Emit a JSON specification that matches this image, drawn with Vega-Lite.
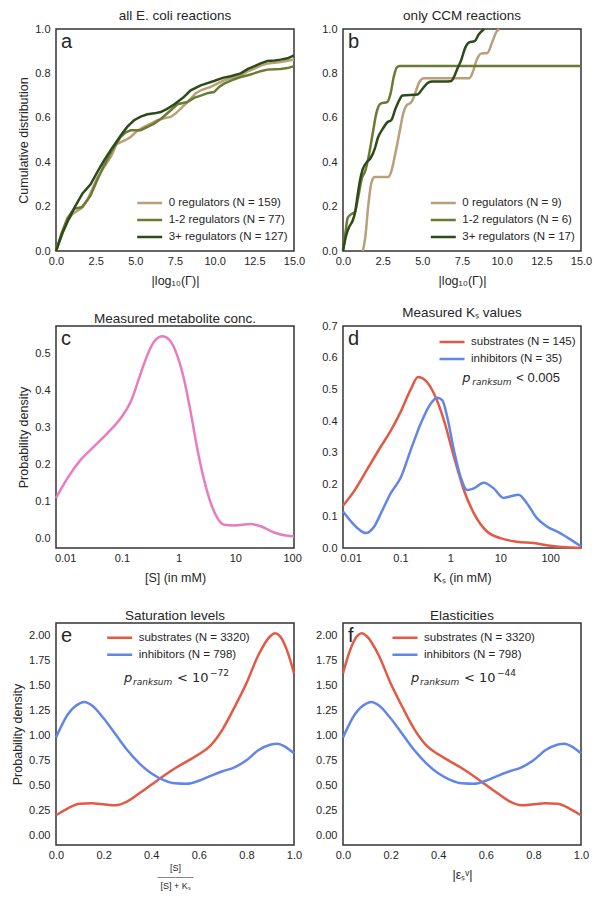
{
  "$schema": "https://vega.github.io/schema/vega-lite/v6.json",
  "padding": {"left": 10, "top": 7, "right": 0, "bottom": 0},
  "background": "white",
  "config": {
    "font": "Liberation Sans",
    "view": {"stroke": "#333333", "strokeWidth": 1.5},
    "axis": {"grid": false, "domain": false, "ticks": false, "tickSize": 0, "labelFont": "Liberation Sans", "labelFontSize": 11, "labelColor": "#262626", "labelFlush": false, "labelOverlap": false, "titleFont": "Liberation Sans", "titleFontSize": 12.5, "titleFontWeight": "normal", "titleColor": "#262626"},
    "axisX": {"labelPadding": 4.5, "titlePadding": 8},
    "axisY": {"labelPadding": 6, "titlePadding": 4},
    "legend": {"labelFont": "Liberation Sans", "labelFontSize": 11.5, "labelColor": "#262626", "symbolType": "stroke", "symbolSize": 625, "symbolStrokeWidth": 2.5, "labelOffset": 5, "clipHeight": 16.5, "rowPadding": 0, "padding": 0, "orient": "none"},
    "title": {"font": "Liberation Sans", "fontSize": 13.5, "fontWeight": "normal", "color": "#262626", "anchor": "middle", "frame": "group", "offset": 1},
    "line": {"strokeWidth": 2.5, "clip": true}
  },
  "datasets": {
    "a": [
      {"series": "0 regulators (N = 159)", "x": 0, "y": 0}, {"series": "0 regulators (N = 159)", "x": 0.3, "y": 0.06}, {"series": "0 regulators (N = 159)", "x": 0.71, "y": 0.138}, {"series": "0 regulators (N = 159)", "x": 1.1, "y": 0.17}, {"series": "0 regulators (N = 159)", "x": 1.55, "y": 0.19}, {"series": "0 regulators (N = 159)", "x": 1.97, "y": 0.228}, {"series": "0 regulators (N = 159)", "x": 2.3, "y": 0.28}, {"series": "0 regulators (N = 159)", "x": 2.6, "y": 0.33}, {"series": "0 regulators (N = 159)", "x": 3.03, "y": 0.378}, {"series": "0 regulators (N = 159)", "x": 3.5, "y": 0.43}, {"series": "0 regulators (N = 159)", "x": 3.8, "y": 0.48}, {"series": "0 regulators (N = 159)", "x": 4.08, "y": 0.49}, {"series": "0 regulators (N = 159)", "x": 4.4, "y": 0.5}, {"series": "0 regulators (N = 159)", "x": 4.71, "y": 0.514}, {"series": "0 regulators (N = 159)", "x": 5.1, "y": 0.54}, {"series": "0 regulators (N = 159)", "x": 5.55, "y": 0.559}, {"series": "0 regulators (N = 159)", "x": 6.0, "y": 0.575}, {"series": "0 regulators (N = 159)", "x": 6.39, "y": 0.589}, {"series": "0 regulators (N = 159)", "x": 6.8, "y": 0.598}, {"series": "0 regulators (N = 159)", "x": 7.23, "y": 0.604}, {"series": "0 regulators (N = 159)", "x": 7.55, "y": 0.62}, {"series": "0 regulators (N = 159)", "x": 7.86, "y": 0.641}, {"series": "0 regulators (N = 159)", "x": 8.2, "y": 0.665}, {"series": "0 regulators (N = 159)", "x": 8.49, "y": 0.686}, {"series": "0 regulators (N = 159)", "x": 8.8, "y": 0.71}, {"series": "0 regulators (N = 159)", "x": 9.12, "y": 0.724}, {"series": "0 regulators (N = 159)", "x": 9.75, "y": 0.739}, {"series": "0 regulators (N = 159)", "x": 10.2, "y": 0.755}, {"series": "0 regulators (N = 159)", "x": 10.59, "y": 0.769}, {"series": "0 regulators (N = 159)", "x": 11.1, "y": 0.78}, {"series": "0 regulators (N = 159)", "x": 11.64, "y": 0.791}, {"series": "0 regulators (N = 159)", "x": 12.1, "y": 0.81}, {"series": "0 regulators (N = 159)", "x": 12.48, "y": 0.821}, {"series": "0 regulators (N = 159)", "x": 12.9, "y": 0.835}, {"series": "0 regulators (N = 159)", "x": 13.32, "y": 0.844}, {"series": "0 regulators (N = 159)", "x": 13.8, "y": 0.848}, {"series": "0 regulators (N = 159)", "x": 14.16, "y": 0.851}, {"series": "0 regulators (N = 159)", "x": 14.6, "y": 0.857}, {"series": "0 regulators (N = 159)", "x": 15, "y": 0.863},
      {"series": "1-2 regulators (N = 77)", "x": 0, "y": 0}, {"series": "1-2 regulators (N = 77)", "x": 0.35, "y": 0.08}, {"series": "1-2 regulators (N = 77)", "x": 0.71, "y": 0.146}, {"series": "1-2 regulators (N = 77)", "x": 1.13, "y": 0.19}, {"series": "1-2 regulators (N = 77)", "x": 1.66, "y": 0.198}, {"series": "1-2 regulators (N = 77)", "x": 2.18, "y": 0.25}, {"series": "1-2 regulators (N = 77)", "x": 2.6, "y": 0.32}, {"series": "1-2 regulators (N = 77)", "x": 3.03, "y": 0.386}, {"series": "1-2 regulators (N = 77)", "x": 3.5, "y": 0.45}, {"series": "1-2 regulators (N = 77)", "x": 4.08, "y": 0.514}, {"series": "1-2 regulators (N = 77)", "x": 4.4, "y": 0.535}, {"series": "1-2 regulators (N = 77)", "x": 4.71, "y": 0.544}, {"series": "1-2 regulators (N = 77)", "x": 5.34, "y": 0.544}, {"series": "1-2 regulators (N = 77)", "x": 5.8, "y": 0.56}, {"series": "1-2 regulators (N = 77)", "x": 6.18, "y": 0.574}, {"series": "1-2 regulators (N = 77)", "x": 6.7, "y": 0.6}, {"series": "1-2 regulators (N = 77)", "x": 7.23, "y": 0.634}, {"series": "1-2 regulators (N = 77)", "x": 7.65, "y": 0.661}, {"series": "1-2 regulators (N = 77)", "x": 8.28, "y": 0.671}, {"series": "1-2 regulators (N = 77)", "x": 8.7, "y": 0.69}, {"series": "1-2 regulators (N = 77)", "x": 9.12, "y": 0.7}, {"series": "1-2 regulators (N = 77)", "x": 9.6, "y": 0.712}, {"series": "1-2 regulators (N = 77)", "x": 9.96, "y": 0.716}, {"series": "1-2 regulators (N = 77)", "x": 10.3, "y": 0.74}, {"series": "1-2 regulators (N = 77)", "x": 10.59, "y": 0.754}, {"series": "1-2 regulators (N = 77)", "x": 11.1, "y": 0.77}, {"series": "1-2 regulators (N = 77)", "x": 11.64, "y": 0.784}, {"series": "1-2 regulators (N = 77)", "x": 12.1, "y": 0.792}, {"series": "1-2 regulators (N = 77)", "x": 12.48, "y": 0.8}, {"series": "1-2 regulators (N = 77)", "x": 12.9, "y": 0.81}, {"series": "1-2 regulators (N = 77)", "x": 13.32, "y": 0.817}, {"series": "1-2 regulators (N = 77)", "x": 13.8, "y": 0.819}, {"series": "1-2 regulators (N = 77)", "x": 14.16, "y": 0.82}, {"series": "1-2 regulators (N = 77)", "x": 14.6, "y": 0.824}, {"series": "1-2 regulators (N = 77)", "x": 15, "y": 0.833},
      {"series": "3+ regulators (N = 127)", "x": 0, "y": 0}, {"series": "3+ regulators (N = 127)", "x": 0.4, "y": 0.08}, {"series": "3+ regulators (N = 127)", "x": 0.82, "y": 0.146}, {"series": "3+ regulators (N = 127)", "x": 1.2, "y": 0.2}, {"series": "3+ regulators (N = 127)", "x": 1.66, "y": 0.258}, {"series": "3+ regulators (N = 127)", "x": 2.18, "y": 0.3}, {"series": "3+ regulators (N = 127)", "x": 2.6, "y": 0.355}, {"series": "3+ regulators (N = 127)", "x": 3.03, "y": 0.408}, {"series": "3+ regulators (N = 127)", "x": 3.5, "y": 0.46}, {"series": "3+ regulators (N = 127)", "x": 4.08, "y": 0.52}, {"series": "3+ regulators (N = 127)", "x": 4.5, "y": 0.56}, {"series": "3+ regulators (N = 127)", "x": 4.92, "y": 0.589}, {"series": "3+ regulators (N = 127)", "x": 5.34, "y": 0.605}, {"series": "3+ regulators (N = 127)", "x": 5.76, "y": 0.616}, {"series": "3+ regulators (N = 127)", "x": 6.2, "y": 0.62}, {"series": "3+ regulators (N = 127)", "x": 6.6, "y": 0.626}, {"series": "3+ regulators (N = 127)", "x": 7.0, "y": 0.64}, {"series": "3+ regulators (N = 127)", "x": 7.44, "y": 0.66}, {"series": "3+ regulators (N = 127)", "x": 8.0, "y": 0.69}, {"series": "3+ regulators (N = 127)", "x": 8.49, "y": 0.724}, {"series": "3+ regulators (N = 127)", "x": 9.12, "y": 0.746}, {"series": "3+ regulators (N = 127)", "x": 9.5, "y": 0.755}, {"series": "3+ regulators (N = 127)", "x": 9.96, "y": 0.766}, {"series": "3+ regulators (N = 127)", "x": 10.5, "y": 0.78}, {"series": "3+ regulators (N = 127)", "x": 11.01, "y": 0.787}, {"series": "3+ regulators (N = 127)", "x": 11.64, "y": 0.8}, {"series": "3+ regulators (N = 127)", "x": 12.1, "y": 0.82}, {"series": "3+ regulators (N = 127)", "x": 12.48, "y": 0.832}, {"series": "3+ regulators (N = 127)", "x": 12.9, "y": 0.845}, {"series": "3+ regulators (N = 127)", "x": 13.32, "y": 0.856}, {"series": "3+ regulators (N = 127)", "x": 13.8, "y": 0.858}, {"series": "3+ regulators (N = 127)", "x": 14.16, "y": 0.862}, {"series": "3+ regulators (N = 127)", "x": 14.6, "y": 0.868}, {"series": "3+ regulators (N = 127)", "x": 15, "y": 0.881}
    ],
    "b": [
      {"series": "0 regulators (N = 9)", "x": 1.25, "y": 0}, {"series": "0 regulators (N = 9)", "x": 1.4, "y": 0.06}, {"series": "0 regulators (N = 9)", "x": 1.6, "y": 0.21}, {"series": "0 regulators (N = 9)", "x": 1.8, "y": 0.31}, {"series": "0 regulators (N = 9)", "x": 2.0, "y": 0.333}, {"series": "0 regulators (N = 9)", "x": 2.85, "y": 0.333}, {"series": "0 regulators (N = 9)", "x": 3.05, "y": 0.36}, {"series": "0 regulators (N = 9)", "x": 3.3, "y": 0.44}, {"series": "0 regulators (N = 9)", "x": 3.55, "y": 0.53}, {"series": "0 regulators (N = 9)", "x": 3.8, "y": 0.62}, {"series": "0 regulators (N = 9)", "x": 4.0, "y": 0.655}, {"series": "0 regulators (N = 9)", "x": 4.3, "y": 0.67}, {"series": "0 regulators (N = 9)", "x": 4.5, "y": 0.7}, {"series": "0 regulators (N = 9)", "x": 4.8, "y": 0.76}, {"series": "0 regulators (N = 9)", "x": 5.1, "y": 0.778}, {"series": "0 regulators (N = 9)", "x": 7.95, "y": 0.778}, {"series": "0 regulators (N = 9)", "x": 8.15, "y": 0.8}, {"series": "0 regulators (N = 9)", "x": 8.45, "y": 0.865}, {"series": "0 regulators (N = 9)", "x": 8.7, "y": 0.889}, {"series": "0 regulators (N = 9)", "x": 9.1, "y": 0.892}, {"series": "0 regulators (N = 9)", "x": 9.4, "y": 0.94}, {"series": "0 regulators (N = 9)", "x": 9.65, "y": 0.985}, {"series": "0 regulators (N = 9)", "x": 9.85, "y": 1.0},
      {"series": "1-2 regulators (N = 6)", "x": 0, "y": 0}, {"series": "1-2 regulators (N = 6)", "x": 0.15, "y": 0.08}, {"series": "1-2 regulators (N = 6)", "x": 0.3, "y": 0.15}, {"series": "1-2 regulators (N = 6)", "x": 0.5, "y": 0.165}, {"series": "1-2 regulators (N = 6)", "x": 0.75, "y": 0.175}, {"series": "1-2 regulators (N = 6)", "x": 0.95, "y": 0.24}, {"series": "1-2 regulators (N = 6)", "x": 1.2, "y": 0.33}, {"series": "1-2 regulators (N = 6)", "x": 1.4, "y": 0.36}, {"series": "1-2 regulators (N = 6)", "x": 1.6, "y": 0.42}, {"series": "1-2 regulators (N = 6)", "x": 1.85, "y": 0.52}, {"series": "1-2 regulators (N = 6)", "x": 2.1, "y": 0.62}, {"series": "1-2 regulators (N = 6)", "x": 2.35, "y": 0.663}, {"series": "1-2 regulators (N = 6)", "x": 2.8, "y": 0.672}, {"series": "1-2 regulators (N = 6)", "x": 3.0, "y": 0.71}, {"series": "1-2 regulators (N = 6)", "x": 3.2, "y": 0.785}, {"series": "1-2 regulators (N = 6)", "x": 3.4, "y": 0.828}, {"series": "1-2 regulators (N = 6)", "x": 3.6, "y": 0.833}, {"series": "1-2 regulators (N = 6)", "x": 15, "y": 0.833},
      {"series": "3+ regulators (N = 17)", "x": 0, "y": 0}, {"series": "3+ regulators (N = 17)", "x": 0.2, "y": 0.07}, {"series": "3+ regulators (N = 17)", "x": 0.4, "y": 0.11}, {"series": "3+ regulators (N = 17)", "x": 0.6, "y": 0.135}, {"series": "3+ regulators (N = 17)", "x": 0.75, "y": 0.17}, {"series": "3+ regulators (N = 17)", "x": 0.9, "y": 0.24}, {"series": "3+ regulators (N = 17)", "x": 1.05, "y": 0.31}, {"series": "3+ regulators (N = 17)", "x": 1.25, "y": 0.37}, {"series": "3+ regulators (N = 17)", "x": 1.5, "y": 0.4}, {"series": "3+ regulators (N = 17)", "x": 1.75, "y": 0.42}, {"series": "3+ regulators (N = 17)", "x": 2.0, "y": 0.46}, {"series": "3+ regulators (N = 17)", "x": 2.2, "y": 0.51}, {"series": "3+ regulators (N = 17)", "x": 2.5, "y": 0.55}, {"series": "3+ regulators (N = 17)", "x": 2.8, "y": 0.58}, {"series": "3+ regulators (N = 17)", "x": 3.05, "y": 0.59}, {"series": "3+ regulators (N = 17)", "x": 3.3, "y": 0.64}, {"series": "3+ regulators (N = 17)", "x": 3.55, "y": 0.68}, {"series": "3+ regulators (N = 17)", "x": 3.75, "y": 0.7}, {"series": "3+ regulators (N = 17)", "x": 4.7, "y": 0.705}, {"series": "3+ regulators (N = 17)", "x": 5.0, "y": 0.73}, {"series": "3+ regulators (N = 17)", "x": 5.3, "y": 0.755}, {"series": "3+ regulators (N = 17)", "x": 5.6, "y": 0.763}, {"series": "3+ regulators (N = 17)", "x": 6.8, "y": 0.765}, {"series": "3+ regulators (N = 17)", "x": 7.0, "y": 0.785}, {"series": "3+ regulators (N = 17)", "x": 7.2, "y": 0.82}, {"series": "3+ regulators (N = 17)", "x": 7.45, "y": 0.86}, {"series": "3+ regulators (N = 17)", "x": 7.7, "y": 0.915}, {"series": "3+ regulators (N = 17)", "x": 7.95, "y": 0.94}, {"series": "3+ regulators (N = 17)", "x": 8.3, "y": 0.945}, {"series": "3+ regulators (N = 17)", "x": 8.55, "y": 0.975}, {"series": "3+ regulators (N = 17)", "x": 8.9, "y": 1.0}
    ],
    "c": [
      {"x": 0.0069, "y": 0.109}, {"x": 0.011, "y": 0.163}, {"x": 0.0189, "y": 0.213}, {"x": 0.0324, "y": 0.249}, {"x": 0.0557, "y": 0.285}, {"x": 0.0957, "y": 0.326}, {"x": 0.1436, "y": 0.371}, {"x": 0.2153, "y": 0.448}, {"x": 0.2825, "y": 0.498}, {"x": 0.37, "y": 0.534}, {"x": 0.519, "y": 0.548}, {"x": 0.681, "y": 0.539}, {"x": 0.953, "y": 0.494}, {"x": 1.25, "y": 0.43}, {"x": 1.64, "y": 0.34}, {"x": 2.15, "y": 0.24}, {"x": 2.81, "y": 0.158}, {"x": 3.69, "y": 0.095}, {"x": 4.83, "y": 0.054}, {"x": 6.34, "y": 0.036}, {"x": 9.51, "y": 0.034}, {"x": 18.7, "y": 0.038}, {"x": 28.1, "y": 0.032}, {"x": 48.2, "y": 0.015}, {"x": 82.8, "y": 0.006}, {"x": 108, "y": 0.0045}
    ],
    "d": [
      {"series": "substrates (N = 145)", "x": 0.00703, "y": 0.133}, {"series": "substrates (N = 145)", "x": 0.01183, "y": 0.18}, {"series": "substrates (N = 145)", "x": 0.02183, "y": 0.25}, {"series": "substrates (N = 145)", "x": 0.04036, "y": 0.32}, {"series": "substrates (N = 145)", "x": 0.06383, "y": 0.37}, {"series": "substrates (N = 145)", "x": 0.1012, "y": 0.43}, {"series": "substrates (N = 145)", "x": 0.1603, "y": 0.5}, {"series": "substrates (N = 145)", "x": 0.2244, "y": 0.539}, {"series": "substrates (N = 145)", "x": 0.3192, "y": 0.528}, {"series": "substrates (N = 145)", "x": 0.4688, "y": 0.487}, {"series": "substrates (N = 145)", "x": 0.7413, "y": 0.403}, {"series": "substrates (N = 145)", "x": 1.175, "y": 0.288}, {"series": "substrates (N = 145)", "x": 1.862, "y": 0.183}, {"series": "substrates (N = 145)", "x": 2.944, "y": 0.11}, {"series": "substrates (N = 145)", "x": 5.433, "y": 0.052}, {"series": "substrates (N = 145)", "x": 10.05, "y": 0.031}, {"series": "substrates (N = 145)", "x": 21.58, "y": 0.02}, {"series": "substrates (N = 145)", "x": 46.45, "y": 0.0157}, {"series": "substrates (N = 145)", "x": 100, "y": 0.0073}, {"series": "substrates (N = 145)", "x": 215.3, "y": 0.002}, {"series": "substrates (N = 145)", "x": 415.9, "y": 0.0},
      {"series": "inhibitors (N = 35)", "x": 0.00703, "y": 0.115}, {"series": "inhibitors (N = 35)", "x": 0.01016, "y": 0.084}, {"series": "inhibitors (N = 35)", "x": 0.01489, "y": 0.058}, {"series": "inhibitors (N = 35)", "x": 0.02023, "y": 0.047}, {"series": "inhibitors (N = 35)", "x": 0.02972, "y": 0.068}, {"series": "inhibitors (N = 35)", "x": 0.04355, "y": 0.12}, {"series": "inhibitors (N = 35)", "x": 0.06383, "y": 0.173}, {"series": "inhibitors (N = 35)", "x": 0.1012, "y": 0.222}, {"series": "inhibitors (N = 35)", "x": 0.1603, "y": 0.309}, {"series": "inhibitors (N = 35)", "x": 0.2535, "y": 0.392}, {"series": "inhibitors (N = 35)", "x": 0.4018, "y": 0.455}, {"series": "inhibitors (N = 35)", "x": 0.5458, "y": 0.474}, {"series": "inhibitors (N = 35)", "x": 0.6871, "y": 0.466}, {"series": "inhibitors (N = 35)", "x": 0.865, "y": 0.413}, {"series": "inhibitors (N = 35)", "x": 1.175, "y": 0.309}, {"series": "inhibitors (N = 35)", "x": 1.596, "y": 0.225}, {"series": "inhibitors (N = 35)", "x": 2.168, "y": 0.183}, {"series": "inhibitors (N = 35)", "x": 2.944, "y": 0.188}, {"series": "inhibitors (N = 35)", "x": 4.667, "y": 0.206}, {"series": "inhibitors (N = 35)", "x": 7.396, "y": 0.188}, {"series": "inhibitors (N = 35)", "x": 11.69, "y": 0.158}, {"series": "inhibitors (N = 35)", "x": 17.18, "y": 0.164}, {"series": "inhibitors (N = 35)", "x": 23.33, "y": 0.168}, {"series": "inhibitors (N = 35)", "x": 34.2, "y": 0.141}, {"series": "inhibitors (N = 35)", "x": 54.2, "y": 0.094}, {"series": "inhibitors (N = 35)", "x": 85.9, "y": 0.068}, {"series": "inhibitors (N = 35)", "x": 158.5, "y": 0.047}, {"series": "inhibitors (N = 35)", "x": 292.4, "y": 0.021}, {"series": "inhibitors (N = 35)", "x": 415.9, "y": 0.005}
    ],
    "e": [
      {"series": "substrates (N = 3320)", "x": 0, "y": 0.2}, {"series": "substrates (N = 3320)", "x": 0.05, "y": 0.27}, {"series": "substrates (N = 3320)", "x": 0.1, "y": 0.315}, {"series": "substrates (N = 3320)", "x": 0.15, "y": 0.32}, {"series": "substrates (N = 3320)", "x": 0.2, "y": 0.31}, {"series": "substrates (N = 3320)", "x": 0.25, "y": 0.3}, {"series": "substrates (N = 3320)", "x": 0.3, "y": 0.34}, {"series": "substrates (N = 3320)", "x": 0.35, "y": 0.42}, {"series": "substrates (N = 3320)", "x": 0.4, "y": 0.505}, {"series": "substrates (N = 3320)", "x": 0.45, "y": 0.59}, {"series": "substrates (N = 3320)", "x": 0.5, "y": 0.67}, {"series": "substrates (N = 3320)", "x": 0.55, "y": 0.74}, {"series": "substrates (N = 3320)", "x": 0.6, "y": 0.81}, {"series": "substrates (N = 3320)", "x": 0.65, "y": 0.9}, {"series": "substrates (N = 3320)", "x": 0.7, "y": 1.06}, {"series": "substrates (N = 3320)", "x": 0.75, "y": 1.28}, {"series": "substrates (N = 3320)", "x": 0.8, "y": 1.52}, {"series": "substrates (N = 3320)", "x": 0.85, "y": 1.8}, {"series": "substrates (N = 3320)", "x": 0.9, "y": 1.99}, {"series": "substrates (N = 3320)", "x": 0.92, "y": 2.02}, {"series": "substrates (N = 3320)", "x": 0.95, "y": 1.96}, {"series": "substrates (N = 3320)", "x": 0.975, "y": 1.82}, {"series": "substrates (N = 3320)", "x": 1.0, "y": 1.62},
      {"series": "inhibitors (N = 798)", "x": 0, "y": 0.977}, {"series": "inhibitors (N = 798)", "x": 0.05, "y": 1.21}, {"series": "inhibitors (N = 798)", "x": 0.1, "y": 1.32}, {"series": "inhibitors (N = 798)", "x": 0.12, "y": 1.333}, {"series": "inhibitors (N = 798)", "x": 0.15, "y": 1.3}, {"series": "inhibitors (N = 798)", "x": 0.2, "y": 1.17}, {"series": "inhibitors (N = 798)", "x": 0.25, "y": 1.01}, {"series": "inhibitors (N = 798)", "x": 0.3, "y": 0.85}, {"series": "inhibitors (N = 798)", "x": 0.35, "y": 0.72}, {"series": "inhibitors (N = 798)", "x": 0.4, "y": 0.62}, {"series": "inhibitors (N = 798)", "x": 0.45, "y": 0.555}, {"series": "inhibitors (N = 798)", "x": 0.5, "y": 0.52}, {"series": "inhibitors (N = 798)", "x": 0.55, "y": 0.515}, {"series": "inhibitors (N = 798)", "x": 0.6, "y": 0.545}, {"series": "inhibitors (N = 798)", "x": 0.65, "y": 0.595}, {"series": "inhibitors (N = 798)", "x": 0.7, "y": 0.64}, {"series": "inhibitors (N = 798)", "x": 0.75, "y": 0.68}, {"series": "inhibitors (N = 798)", "x": 0.8, "y": 0.75}, {"series": "inhibitors (N = 798)", "x": 0.85, "y": 0.85}, {"series": "inhibitors (N = 798)", "x": 0.9, "y": 0.905}, {"series": "inhibitors (N = 798)", "x": 0.93, "y": 0.915}, {"series": "inhibitors (N = 798)", "x": 0.96, "y": 0.89}, {"series": "inhibitors (N = 798)", "x": 1.0, "y": 0.82}
    ],
    "f": [
      {"series": "substrates (N = 3320)", "x": 0, "y": 1.62}, {"series": "substrates (N = 3320)", "x": 0.025, "y": 1.82}, {"series": "substrates (N = 3320)", "x": 0.05, "y": 1.96}, {"series": "substrates (N = 3320)", "x": 0.08, "y": 2.02}, {"series": "substrates (N = 3320)", "x": 0.1, "y": 1.99}, {"series": "substrates (N = 3320)", "x": 0.15, "y": 1.8}, {"series": "substrates (N = 3320)", "x": 0.2, "y": 1.52}, {"series": "substrates (N = 3320)", "x": 0.25, "y": 1.28}, {"series": "substrates (N = 3320)", "x": 0.3, "y": 1.06}, {"series": "substrates (N = 3320)", "x": 0.35, "y": 0.9}, {"series": "substrates (N = 3320)", "x": 0.4, "y": 0.81}, {"series": "substrates (N = 3320)", "x": 0.45, "y": 0.74}, {"series": "substrates (N = 3320)", "x": 0.5, "y": 0.67}, {"series": "substrates (N = 3320)", "x": 0.55, "y": 0.59}, {"series": "substrates (N = 3320)", "x": 0.6, "y": 0.505}, {"series": "substrates (N = 3320)", "x": 0.65, "y": 0.42}, {"series": "substrates (N = 3320)", "x": 0.7, "y": 0.34}, {"series": "substrates (N = 3320)", "x": 0.75, "y": 0.3}, {"series": "substrates (N = 3320)", "x": 0.8, "y": 0.31}, {"series": "substrates (N = 3320)", "x": 0.85, "y": 0.32}, {"series": "substrates (N = 3320)", "x": 0.9, "y": 0.315}, {"series": "substrates (N = 3320)", "x": 0.95, "y": 0.27}, {"series": "substrates (N = 3320)", "x": 1.0, "y": 0.2},
      {"series": "inhibitors (N = 798)", "x": 0, "y": 0.977}, {"series": "inhibitors (N = 798)", "x": 0.05, "y": 1.21}, {"series": "inhibitors (N = 798)", "x": 0.1, "y": 1.32}, {"series": "inhibitors (N = 798)", "x": 0.12, "y": 1.333}, {"series": "inhibitors (N = 798)", "x": 0.15, "y": 1.3}, {"series": "inhibitors (N = 798)", "x": 0.2, "y": 1.17}, {"series": "inhibitors (N = 798)", "x": 0.25, "y": 1.01}, {"series": "inhibitors (N = 798)", "x": 0.3, "y": 0.85}, {"series": "inhibitors (N = 798)", "x": 0.35, "y": 0.72}, {"series": "inhibitors (N = 798)", "x": 0.4, "y": 0.62}, {"series": "inhibitors (N = 798)", "x": 0.45, "y": 0.555}, {"series": "inhibitors (N = 798)", "x": 0.5, "y": 0.52}, {"series": "inhibitors (N = 798)", "x": 0.55, "y": 0.515}, {"series": "inhibitors (N = 798)", "x": 0.6, "y": 0.545}, {"series": "inhibitors (N = 798)", "x": 0.65, "y": 0.595}, {"series": "inhibitors (N = 798)", "x": 0.7, "y": 0.64}, {"series": "inhibitors (N = 798)", "x": 0.75, "y": 0.68}, {"series": "inhibitors (N = 798)", "x": 0.8, "y": 0.75}, {"series": "inhibitors (N = 798)", "x": 0.85, "y": 0.85}, {"series": "inhibitors (N = 798)", "x": 0.9, "y": 0.905}, {"series": "inhibitors (N = 798)", "x": 0.93, "y": 0.915}, {"series": "inhibitors (N = 798)", "x": 0.96, "y": 0.89}, {"series": "inhibitors (N = 798)", "x": 1.0, "y": 0.82}
    ]
  },
  "columns": 2,
  "spacing": {"row": 75, "column": 49},
  "bounds": "flush",
  "resolve": {"scale": {"x": "independent", "y": "independent", "color": "independent"}, "legend": {"color": "independent"}, "axis": {"x": "independent", "y": "independent"}},
  "concat": [
    {
      "width": 238, "height": 222,
      "title": {"text": "all E. coli reactions"},
      "data": {"name": "a"},
      "layer": [
        {"mark": {"type": "line", "interpolate": "linear"},
         "encoding": {
           "x": {"field": "x", "type": "quantitative", "scale": {"domain": [0, 15], "nice": false, "zero": false}, "axis": {"values": [0, 2.5, 5, 7.5, 10, 12.5, 15], "tickCount": 20, "format": ".1f", "labelOverlap": false, "labelFlush": false, "title": "|log₁₀(Γ)|"}},
           "y": {"field": "y", "type": "quantitative", "scale": {"domain": [0, 1], "nice": false}, "axis": {"values": [0, 0.2, 0.4, 0.6, 0.8, 1], "tickCount": 20, "format": ".1f", "labelOverlap": false, "title": "Cumulative distribution"}},
           "color": {"field": "series", "type": "nominal", "sort": null, "scale": {"domain": ["0 regulators (N = 159)", "1-2 regulators (N = 77)", "3+ regulators (N = 127)"], "range": ["#b9a078", "#6b7a34", "#2d4b19"]}, "legend": {"title": null, "orient": "none", "legendX": 79.7, "legendY": 165.75}}
         }},
        {"data": {"values": [{}]}, "mark": {"type": "text", "fontSize": 20, "dx": 5, "dy": 19, "align": "left", "baseline": "alphabetic", "color": "#262626"},
         "encoding": {"x": {"datum": 0, "type": "quantitative"}, "y": {"datum": 1, "type": "quantitative"}, "text": {"value": "a"}}}
      ]
    },
    {
      "width": 238, "height": 222,
      "title": {"text": "only CCM reactions"},
      "data": {"name": "b"},
      "layer": [
        {"mark": {"type": "line", "interpolate": "monotone"},
         "encoding": {
           "x": {"field": "x", "type": "quantitative", "scale": {"domain": [0, 15], "nice": false, "zero": false}, "axis": {"values": [0, 2.5, 5, 7.5, 10, 12.5, 15], "tickCount": 20, "format": ".1f", "labelOverlap": false, "labelFlush": false, "title": "|log₁₀(Γ)|"}},
           "y": {"field": "y", "type": "quantitative", "scale": {"domain": [0, 1], "nice": false}, "axis": {"values": [0, 0.2, 0.4, 0.6, 0.8, 1], "tickCount": 20, "format": ".1f", "labelOverlap": false, "title": null}},
           "color": {"field": "series", "type": "nominal", "sort": null, "scale": {"domain": ["0 regulators (N = 9)", "1-2 regulators (N = 6)", "3+ regulators (N = 17)"], "range": ["#b9a078", "#6b7a34", "#2d4b19"]}, "legend": {"title": null, "orient": "none", "legendX": 86.3, "legendY": 165.75}}
         }},
        {"data": {"values": [{}]}, "mark": {"type": "text", "fontSize": 20, "dx": 5, "dy": 19, "align": "left", "baseline": "alphabetic", "color": "#262626"},
         "encoding": {"x": {"datum": 0, "type": "quantitative"}, "y": {"datum": 1, "type": "quantitative"}, "text": {"value": "b"}}}
      ]
    },
    {
      "width": 238, "height": 222,
      "title": {"text": "Measured metabolite conc."},
      "data": {"name": "c"},
      "layer": [
        {"mark": {"type": "line", "interpolate": "monotone", "color": "#e87cbf"},
         "encoding": {
           "x": {"field": "x", "type": "quantitative", "scale": {"type": "log", "domain": [0.0069, 108], "nice": false}, "axis": {"values": [0.01, 0.1, 1, 10, 100], "tickCount": 20, "format": "~g", "labelOverlap": false, "labelFlush": false, "title": "[S] (in mM)"}},
           "y": {"field": "y", "type": "quantitative", "scale": {"domain": [-0.027, 0.576], "nice": false, "zero": false}, "axis": {"values": [0, 0.1, 0.2, 0.3, 0.4, 0.5], "tickCount": 20, "format": ".1f", "labelOverlap": false, "title": "Probability density"}}
         }},
        {"data": {"values": [{}]}, "mark": {"type": "text", "fontSize": 20, "dx": 5, "dy": 19, "align": "left", "baseline": "alphabetic", "color": "#262626"},
         "encoding": {"x": {"datum": 0.0069, "type": "quantitative"}, "y": {"datum": 0.576, "type": "quantitative"}, "text": {"value": "c"}}}
      ]
    },
    {
      "width": 238, "height": 222,
      "title": {"text": "Measured Kₛ values"},
      "data": {"name": "d"},
      "layer": [
        {"mark": {"type": "line", "interpolate": "monotone"},
         "encoding": {
           "x": {"field": "x", "type": "quantitative", "scale": {"type": "log", "domain": [0.00703, 416], "nice": false}, "axis": {"values": [0.01, 0.1, 1, 10, 100], "tickCount": 20, "format": "~g", "labelOverlap": false, "labelFlush": false, "title": "Kₛ (in mM)"}},
           "y": {"field": "y", "type": "quantitative", "scale": {"domain": [0, 0.7], "nice": false}, "axis": {"values": [0, 0.1, 0.2, 0.3, 0.4, 0.5, 0.6, 0.7], "tickCount": 20, "format": ".1f", "labelOverlap": false, "title": null}},
           "color": {"field": "series", "type": "nominal", "sort": null, "scale": {"domain": ["substrates (N = 145)", "inhibitors (N = 35)"], "range": ["#e25a45", "#6286e8"]}, "legend": {"title": null, "orient": "none", "legendX": 95, "legendY": 7.75}}
         }},
        {"data": {"values": [{}]}, "mark": {"type": "text", "fontSize": 20, "dx": 5, "dy": 19, "align": "left", "baseline": "alphabetic", "color": "#262626"},
         "encoding": {"x": {"datum": 0.00703, "type": "quantitative"}, "y": {"datum": 0.7, "type": "quantitative"}, "text": {"value": "d"}}},
        {"data": {"values": [{}]}, "mark": {"type": "text", "font": "DejaVu Sans", "fontStyle": "italic", "fontSize": 13, "align": "left", "baseline": "alphabetic", "color": "#262626"},
         "encoding": {"x": {"datum": 1.73, "type": "quantitative"}, "y": {"datum": 0.524, "type": "quantitative"}, "text": {"value": "p"}}},
        {"data": {"values": [{}]}, "mark": {"type": "text", "font": "DejaVu Sans", "fontStyle": "italic", "fontSize": 9, "dx": 10, "dy": 3, "align": "left", "baseline": "alphabetic", "color": "#262626"},
         "encoding": {"x": {"datum": 1.73, "type": "quantitative"}, "y": {"datum": 0.524, "type": "quantitative"}, "text": {"value": "ranksum"}}},
        {"data": {"values": [{}]}, "mark": {"type": "text", "font": "Liberation Sans", "fontSize": 13, "dx": 54, "align": "left", "baseline": "alphabetic", "color": "#262626"},
         "encoding": {"x": {"datum": 1.73, "type": "quantitative"}, "y": {"datum": 0.524, "type": "quantitative"}, "text": {"value": "< 0.005"}}}
      ]
    },
    {
      "width": 238, "height": 222,
      "title": {"text": "Saturation levels"},
      "data": {"name": "e"},
      "layer": [
        {"mark": {"type": "line", "interpolate": "monotone"},
         "encoding": {
           "x": {"field": "x", "type": "quantitative", "scale": {"domain": [0, 1], "nice": false, "zero": false}, "axis": {"values": [0, 0.2, 0.4, 0.6, 0.8, 1], "tickCount": 20, "format": ".1f", "labelOverlap": false, "labelFlush": false, "title": ["[S]", "————", "[S] + Kₛ"], "titleFontSize": 9, "titleLineHeight": 9, "titlePadding": 3}},
           "y": {"field": "y", "type": "quantitative", "scale": {"domain": [-0.097, 2.123], "nice": false, "zero": false}, "axis": {"values": [0, 0.25, 0.5, 0.75, 1, 1.25, 1.5, 1.75, 2], "tickCount": 20, "format": ".2f", "labelOverlap": false, "title": "Probability density"}},
           "color": {"field": "series", "type": "nominal", "sort": null, "scale": {"domain": ["substrates (N = 3320)", "inhibitors (N = 798)"], "range": ["#e25a45", "#6286e8"]}, "legend": {"title": null, "orient": "none", "legendX": 49.7, "legendY": 6.45}}
         }},
        {"data": {"values": [{}]}, "mark": {"type": "text", "fontSize": 20, "dx": 5, "dy": 19, "align": "left", "baseline": "alphabetic", "color": "#262626"},
         "encoding": {"x": {"datum": 0, "type": "quantitative"}, "y": {"datum": 2.123, "type": "quantitative"}, "text": {"value": "e"}}},
        {"data": {"values": [{}]}, "mark": {"type": "text", "font": "DejaVu Sans", "fontStyle": "italic", "fontSize": 13, "align": "left", "baseline": "alphabetic", "color": "#262626"},
         "encoding": {"x": {"datum": 0.2857, "type": "quantitative"}, "y": {"datum": 1.536, "type": "quantitative"}, "text": {"value": "p"}}},
        {"data": {"values": [{}]}, "mark": {"type": "text", "font": "DejaVu Sans", "fontStyle": "italic", "fontSize": 9, "dx": 9, "dy": 3, "align": "left", "baseline": "alphabetic", "color": "#262626"},
         "encoding": {"x": {"datum": 0.2857, "type": "quantitative"}, "y": {"datum": 1.536, "type": "quantitative"}, "text": {"value": "ranksum"}}},
        {"data": {"values": [{}]}, "mark": {"type": "text", "font": "DejaVu Sans", "fontSize": 13, "dx": 53, "align": "left", "baseline": "alphabetic", "color": "#262626"},
         "encoding": {"x": {"datum": 0.2857, "type": "quantitative"}, "y": {"datum": 1.536, "type": "quantitative"}, "text": {"value": "< 10"}}},
        {"data": {"values": [{}]}, "mark": {"type": "text", "font": "DejaVu Sans", "fontSize": 9, "dx": 86, "dy": -6, "align": "left", "baseline": "alphabetic", "color": "#262626"},
         "encoding": {"x": {"datum": 0.2857, "type": "quantitative"}, "y": {"datum": 1.536, "type": "quantitative"}, "text": {"value": "−72"}}}
      ]
    },
    {
      "width": 238, "height": 222,
      "title": {"text": "Elasticities"},
      "data": {"name": "f"},
      "layer": [
        {"mark": {"type": "line", "interpolate": "monotone"},
         "encoding": {
           "x": {"field": "x", "type": "quantitative", "scale": {"domain": [0, 1], "nice": false, "zero": false}, "axis": {"values": [0, 0.2, 0.4, 0.6, 0.8, 1], "tickCount": 20, "format": ".1f", "labelOverlap": false, "labelFlush": false, "title": "|εₛᵛ|"}},
           "y": {"field": "y", "type": "quantitative", "scale": {"domain": [-0.097, 2.123], "nice": false, "zero": false}, "axis": {"values": [0, 0.25, 0.5, 0.75, 1, 1.25, 1.5, 1.75, 2], "tickCount": 20, "format": ".2f", "labelOverlap": false, "title": null}},
           "color": {"field": "series", "type": "nominal", "sort": null, "scale": {"domain": ["substrates (N = 3320)", "inhibitors (N = 798)"], "range": ["#e25a45", "#6286e8"]}, "legend": {"title": null, "orient": "none", "legendX": 48, "legendY": 6.45}}
         }},
        {"data": {"values": [{}]}, "mark": {"type": "text", "fontSize": 20, "dx": 5, "dy": 19, "align": "left", "baseline": "alphabetic", "color": "#262626"},
         "encoding": {"x": {"datum": 0, "type": "quantitative"}, "y": {"datum": 2.123, "type": "quantitative"}, "text": {"value": "f"}}},
        {"data": {"values": [{}]}, "mark": {"type": "text", "font": "DejaVu Sans", "fontStyle": "italic", "fontSize": 13, "align": "left", "baseline": "alphabetic", "color": "#262626"},
         "encoding": {"x": {"datum": 0.2857, "type": "quantitative"}, "y": {"datum": 1.536, "type": "quantitative"}, "text": {"value": "p"}}},
        {"data": {"values": [{}]}, "mark": {"type": "text", "font": "DejaVu Sans", "fontStyle": "italic", "fontSize": 9, "dx": 9, "dy": 3, "align": "left", "baseline": "alphabetic", "color": "#262626"},
         "encoding": {"x": {"datum": 0.2857, "type": "quantitative"}, "y": {"datum": 1.536, "type": "quantitative"}, "text": {"value": "ranksum"}}},
        {"data": {"values": [{}]}, "mark": {"type": "text", "font": "DejaVu Sans", "fontSize": 13, "dx": 53, "align": "left", "baseline": "alphabetic", "color": "#262626"},
         "encoding": {"x": {"datum": 0.2857, "type": "quantitative"}, "y": {"datum": 1.536, "type": "quantitative"}, "text": {"value": "< 10"}}},
        {"data": {"values": [{}]}, "mark": {"type": "text", "font": "DejaVu Sans", "fontSize": 9, "dx": 86, "dy": -6, "align": "left", "baseline": "alphabetic", "color": "#262626"},
         "encoding": {"x": {"datum": 0.2857, "type": "quantitative"}, "y": {"datum": 1.536, "type": "quantitative"}, "text": {"value": "−44"}}}
      ]
    }
  ]
}
